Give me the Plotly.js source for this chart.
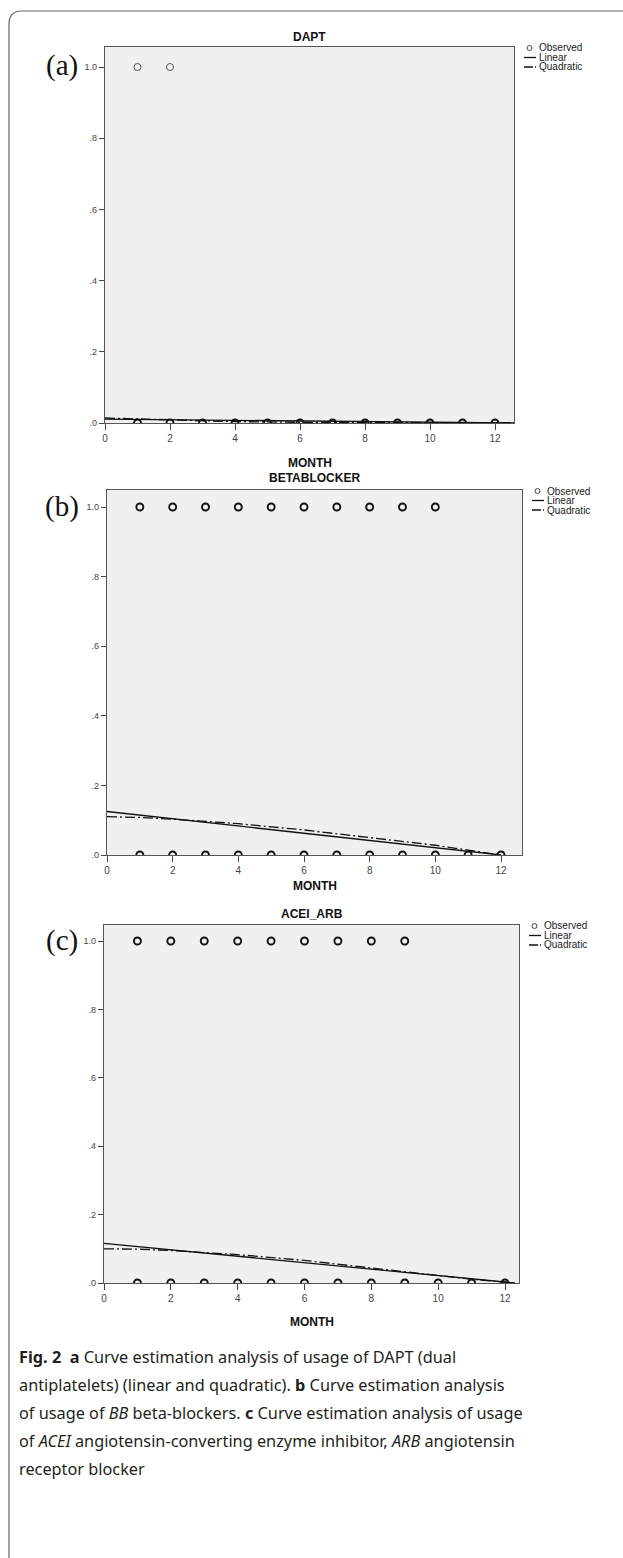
<!DOCTYPE html>
<html><head><meta charset="utf-8">
<script src="https://cdn.plot.ly/plotly-3.0.1.min.js"></script>
<style>html,body{margin:0;padding:0;background:#fff}#c{width:623px;height:1558px}</style>
</head><body><div id="c"></div>
<script>
// ---------- data ----------
const months = [1,2,3,4,5,6,7,8,9,10,11,12];
const yTickVals = [0,0.2,0.4,0.6,0.8,1.0];
const yTickText = ['.0','.2','.4','.6','.8','1.0'];
const xTickVals = [0,2,4,6,8,10,12];
const xTickText = ['0','2','4','6','8','10','12'];
const panelTitles = ['DAPT','BETABLOCKER','ACEI_ARB'];
const panelLetters = ['(a)','(b)','(c)'];
const xTitle = 'MONTH';
const legendNames = ['Observed','Linear','Quadratic'];

// observed: months with value 1, and months with value 0
const dapt_obs1_x = [1,2];
const betab_obs1_x = [1,2,3,4,5,6,7,8,9,10];
const acei_obs1_x = [1,2,3,4,5,6,7,8,9];
const obs0_x = months;

// fitted lines
const dapt_lin_x = [0,12.6];
const dapt_lin_y = [0.011,0.0];
const dapt_quad_x = [0,2,4,6,8,10,12.6];
const dapt_quad_y = [0.014,0.008,0.004,0.002,0.001,0.001,0.001];

const betab_lin_x = [0,12];
const betab_lin_y = [0.125,0.0];
const betab_quad_x = [0,1,2,4,6,8,10,11,12];
const betab_quad_y = [0.11,0.108,0.103,0.09,0.072,0.051,0.028,0.014,0.0];

const acei_lin_x = [0,12.3];
const acei_lin_y = [0.116,0.0];
const acei_quad_x = [0,1,2,4,6,8,10,11,12.3];
const acei_quad_y = [0.100,0.099,0.095,0.083,0.066,0.045,0.022,0.011,0.0];

const obs1Sets = [dapt_obs1_x, betab_obs1_x, acei_obs1_x];
const linX = [dapt_lin_x, betab_lin_x, acei_lin_x];
const linY = [dapt_lin_y, betab_lin_y, acei_lin_y];
const quadX = [dapt_quad_x, betab_quad_x, acei_quad_x];
const quadY = [dapt_quad_y, betab_quad_y, acei_quad_y];

// ---------- layout geometry (pixels) ----------
const W = 623, H = 1558;
const panels = [
  {l:105, r:514, t:47,  b:423,  y1:67,  x12:495, title:37,  month:463},
  {l:107, r:522, t:490, b:855,  y1:507, x12:501, title:478, month:886},
  {l:104, r:519, t:925, b:1283, y1:941, x12:505, title:914, month:1322}
];
const px = x => x / W;
const py = y => 1 - y / H;

const TXT = 'Liberation Sans, Arial, sans-serif';
const QDASH = '10px,3px,2px,3px';
const traces = [];
const layout = {
  width: W, height: H,
  margin: {l:0, r:0, t:0, b:0},
  paper_bgcolor: '#ffffff', plot_bgcolor: '#f0f0f0',
  showlegend: false,
  annotations: [], shapes: []
};

panels.forEach((p, i) => {
  const n = i === 0 ? '' : String(i + 1);
  const xa = 'x' + n, ya = 'y' + n;
  const thin = i === 0;
  const mk1 = {symbol:'circle-open', size: 7, color: thin ? '#555' : '#111', line:{width: thin ? 1 : 1.9, color: thin ? '#555' : '#111'}};
  const mk0 = {symbol:'circle-open', size: 7, color: '#111', line:{width: 1.9, color: '#111'}};
  traces.push({
    x: obs1Sets[i], y: obs1Sets[i].map(() => 1),
    type:'scatter', mode:'markers', name: legendNames[0], xaxis: xa, yaxis: ya,
    marker: mk1, hoverinfo:'skip'
  });
  traces.push({
    x: obs0_x, y: obs0_x.map(() => 0),
    type:'scatter', mode:'markers', name: legendNames[0], xaxis: xa, yaxis: ya,
    marker: mk0, hoverinfo:'skip'
  });
  traces.push({
    x: linX[i], y: linY[i], type:'scatter', mode:'lines', name: legendNames[1],
    xaxis: xa, yaxis: ya, line:{color:'#111', width:1.3}, hoverinfo:'skip'
  });
  traces.push({
    x: quadX[i], y: quadY[i], type:'scatter', mode:'lines', name: legendNames[2],
    xaxis: xa, yaxis: ya, line:{color:'#111', width:1.3, dash: QDASH}, hoverinfo:'skip'
  });

  const yTop = 1 + (p.y1 - p.t) / (p.b - p.y1);
  const xunit = (p.x12 - p.l) / 12;
  const xMax = (p.r - p.l) / xunit;
  layout['xaxis' + n] = {
    domain: [px(p.l), px(p.r)], anchor: ya, range: [0, xMax],
    tickvals: xTickVals, ticktext: xTickText, ticks: 'outside', ticklen: 6, tickwidth: 1, tickcolor: '#444',
    showline: true, mirror: true, linecolor: '#555', linewidth: 1.2,
    showgrid: false, zeroline: false, fixedrange: true,
    tickfont: {family: TXT, size: 10, color: '#444'}
  };
  layout['yaxis' + n] = {
    domain: [py(p.b), py(p.t)], anchor: xa, range: [0, yTop],
    tickvals: yTickVals, ticktext: yTickText, ticks: 'outside', ticklen: 5, tickwidth: 1, tickcolor: '#444',
    showline: true, mirror: true, linecolor: '#555', linewidth: 1.2,
    showgrid: false, zeroline: false, fixedrange: true,
    tickfont: {family: TXT, size: 9, color: '#444'}
  };
  // panel title, x title, letter
  layout.annotations.push({
    xref:'paper', yref:'paper', x: px((p.l + p.r) / 2), y: py(p.title), xanchor:'center', yanchor:'middle',
    text: '<b>' + panelTitles[i] + '</b>', showarrow:false, font:{family: TXT, size: 12, color:'#111'}
  });
  layout.annotations.push({
    xref:'paper', yref:'paper', x: px((p.l + p.r) / 2), y: py(p.month), xanchor:'center', yanchor:'middle',
    text: '<b>' + xTitle + '</b>', showarrow:false, font:{family: TXT, size: 12, color:'#111'}
  });
  layout.annotations.push({
    xref:'paper', yref:'paper', x: px(62), y: py(p.y1 - 1), xanchor:'center', yanchor:'middle',
    text: panelLetters[i], showarrow:false, font:{family:'Liberation Serif, Times New Roman, serif', size: 29, color:'#111'}
  });
  // compact SPSS-style legend (drawn as layout items)
  const lx = p.r + 10, ly = p.t + 1;
  const rowH = 9.5;
  legendNames.forEach((nm, k) => {
    layout.annotations.push({
      xref:'paper', yref:'paper', x: px(lx + 13), y: py(ly + k * rowH), xanchor:'left', yanchor:'middle',
      text: nm, showarrow:false, font:{family: TXT, size: 10, color:'#222'}
    });
  });
  layout.shapes.push({type:'circle', xref:'paper', yref:'paper',
    x0: px(lx + 3), x1: px(lx + 8), y0: py(ly + 2.5), y1: py(ly - 2.5),
    line:{color:'#444', width:1}, fillcolor:'rgba(0,0,0,0)'});
  layout.shapes.push({type:'line', xref:'paper', yref:'paper',
    x0: px(lx), x1: px(lx + 12), y0: py(ly + rowH), y1: py(ly + rowH), line:{color:'#111', width:1.3}});
  layout.shapes.push({type:'line', xref:'paper', yref:'paper',
    x0: px(lx), x1: px(lx + 12), y0: py(ly + 2 * rowH), y1: py(ly + 2 * rowH), line:{color:'#111', width:1.3, dash:'9px,2px,1px,2px'}});
});

// caption, one annotation per line for spacing like the original
const captionLines = [
  '<b>Fig. 2</b>  <b>a</b> Curve estimation analysis of usage of DAPT (dual',
  'antiplatelets) (linear and quadratic). <b>b</b> Curve estimation analysis',
  'of usage of <i>BB</i> beta-blockers. <b>c</b> Curve estimation analysis of usage',
  'of <i>ACEI</i> angiotensin-converting enzyme inhibitor, <i>ARB</i> angiotensin',
  'receptor blocker'
];
captionLines.forEach((t, k) => {
  layout.annotations.push({
    xref:'paper', yref:'paper', x: px(17), y: py(1357 + k * 28), xanchor:'left', yanchor:'middle', align:'left',
    text: t, showarrow:false,
    font:{family:'Noto Sans, Open Sans, sans-serif', size: 16.3, color:'#231f20'}
  });
});

// frame with rounded top-left corner
layout.shapes.push({
  type:'path', xref:'paper', yref:'paper',
  path: 'M ' + px(9) + ',' + py(H + 5) + ' L ' + px(9) + ',' + py(24) +
        ' Q ' + px(9) + ',' + py(11) + ' ' + px(22) + ',' + py(11) + ' L ' + px(W + 5) + ',' + py(11),
  line:{color:'#666', width:1.2}
});

Plotly.newPlot('c', traces, layout, {staticPlot: true});
</script>
</body></html>
